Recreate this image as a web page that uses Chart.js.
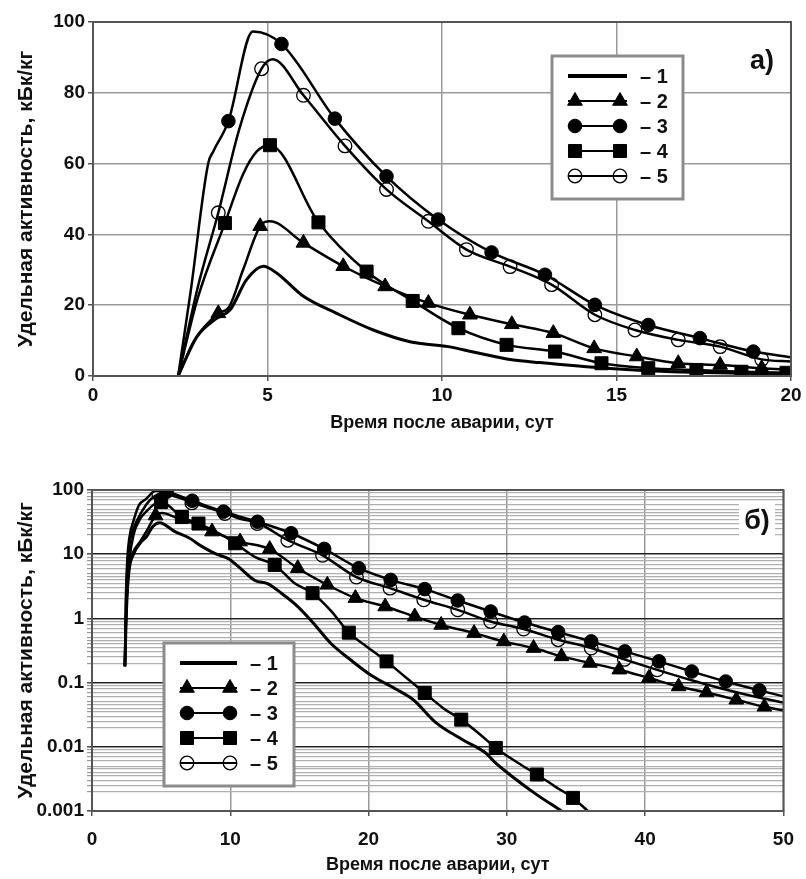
<!DOCTYPE html>
<html>
<head>
<meta charset="utf-8">
<script src="https://cdn.jsdelivr.net/npm/chart.js@4.4.1/dist/chart.umd.min.js"></script>
<style>
  html, body { margin: 0; padding: 0; background: #fff; }
  .panel { position: relative; width: 806px; }
</style>
</head>
<body>
<div class="panel" style="height:440px"><canvas id="linChart" width="806" height="440"></canvas></div>
<div class="panel" style="height:439px"><canvas id="logChart" width="806" height="439"></canvas></div>
<script>
const seriesNames = ['1', '2', '3', '4', '5'];
const yTitle = 'Удельная активность, кБк/кг';
const xTitle = 'Время после аварии, сут';
const logDecades = [0.001, 0.01, 0.1, 1, 10, 100];
const logMinor = [2, 2.5, 3, 3.5, 4, 4.5, 5, 6, 7, 8, 9];

// panel a) linear scale, days 0..20
const linCurve1 = [[2.44,0],[2.97,11],[3.5,16],[3.93,18.7],[4.4,27.2],[4.88,31],[5.26,29.1],[6.03,22.5],[6.98,17.7],[8.03,13],[9.08,9.7],[10.18,8.3],[10.9,6.8],[12.0,4.6],[12.8,3.8],[14.7,2.2],[16.6,1.2],[18.5,0.8],[20,0.5]];
const linCurve2 = [[2.44,0],[2.9,10],[3.59,17.7],[3.9,19.5],[4.3,30],[4.79,42.3],[5.07,43.7],[6.03,37.6],[7.17,31],[8.37,25.3],[9.61,20.6],[10.8,17.3],[12.0,14.6],[13.19,12.1],[14.36,7.8],[15.58,5.5],[16.77,3.6],[17.97,3.1],[19.16,2.2],[20,1.8]];
const linCurve3 = [[2.44,0],[2.8,24],[3.3,60],[3.45,63.5],[3.88,72],[4.58,97.3],[5.4,93.8],[6.93,72.7],[8.41,56.4],[9.89,44.2],[11.42,34.9],[12.95,28.6],[14.38,20.1],[15.91,14.4],[17.39,10.7],[18.92,6.9],[20,5.3]];
const linCurve4 = [[2.44,0],[3.0,22],[3.78,43.2],[4.3,57],[4.7,63.5],[5.07,65.2],[6.46,43.4],[7.84,29.5],[9.16,21.2],[10.47,13.5],[11.85,8.8],[13.24,6.9],[14.57,3.6],[15.91,2.2],[17.29,1.7],[18.58,1.2],[19.87,0.9],[20,0.85]];
const linCurve5 = [[2.44,0],[3.0,25],[3.59,46.1],[4.2,70],[4.83,86.8],[5.15,89.5],[6.03,79.3],[7.22,65],[8.41,52.7],[9.61,43.7],[10.7,35.7],[11.95,30.9],[13.14,25.8],[14.38,17.3],[15.53,13],[16.77,10.2],[17.97,8.3],[19.16,4.7],[20,4.1]];
const linMarks2 = [[3.59,17.7],[4.79,42.3],[6.03,37.6],[7.17,31],[8.37,25.3],[9.61,20.6],[10.8,17.3],[12.0,14.6],[13.19,12.1],[14.36,7.8],[15.58,5.5],[16.77,3.6],[17.97,3.1],[19.16,2.2]];
const linMarks3 = [[3.88,72],[5.4,93.8],[6.93,72.7],[8.41,56.4],[9.89,44.2],[11.42,34.9],[12.95,28.6],[14.38,20.1],[15.91,14.4],[17.39,10.7],[18.92,6.9]];
const linMarks4 = [[3.78,43.2],[5.07,65.2],[6.46,43.4],[7.84,29.5],[9.16,21.2],[10.47,13.5],[11.85,8.8],[13.24,6.9],[14.57,3.6],[15.91,2.2],[17.29,1.7],[18.58,1.2],[19.87,0.9]];
const linMarks5 = [[3.59,46.1],[4.83,86.8],[6.03,79.3],[7.22,65],[8.41,52.7],[9.61,43.7],[10.7,35.7],[11.95,30.9],[13.14,25.8],[14.38,17.3],[15.53,13],[16.77,10.2],[17.97,8.3],[19.16,4.7]];

// panel б) log scale, days 0..50
const logCurve1 = [[2.38,0.18],[2.45,0.7],[2.55,2.5],[2.7,6],[3.0,10],[3.5,15],[3.93,18.7],[4.4,27],[4.88,31],[6.0,22.5],[7.0,18],[8.0,13],[9.0,10],[9.87,8.5],[10.59,6.4],[11.78,3.9],[12.73,3.45],[13.69,2.47],[14.88,1.53],[16.0,0.85],[17.26,0.41],[18.69,0.227],[20.12,0.133],[22.03,0.078],[23.23,0.054],[24.89,0.0236],[26.8,0.0129],[28.47,0.008],[29.18,0.0056],[30.5,0.0033],[32.0,0.0019],[33.95,0.001]];
const logCurve2 = [[2.38,0.18],[2.45,0.8],[2.55,3],[2.7,7],[3.0,11],[3.5,16],[4.0,24],[4.6,40],[5.07,43.7],[6.03,37.6],[7.17,31],[8.68,22.5],[10.71,15.7],[12.85,12],[14.88,6.05],[17.02,3.33],[19.05,2.07],[21.2,1.53],[23.34,1.07],[25.25,0.79],[27.63,0.59],[29.78,0.437],[31.93,0.345],[33.95,0.256],[36.0,0.202],[38.13,0.159],[40.27,0.118],[42.42,0.087],[44.44,0.07],[46.59,0.054],[48.62,0.042],[50,0.037]];
const logCurve3 = [[2.38,0.18],[2.45,2],[2.55,8],[2.7,18],[3.0,33],[3.4,58],[3.9,72],[4.6,97],[5.4,94],[7.25,68],[9.51,46],[11.97,32],[14.4,21.2],[16.79,12.1],[19.29,6.05],[21.6,3.98],[24.06,2.86],[26.45,1.9],[28.83,1.28],[31.28,0.863],[33.71,0.612],[36.1,0.438],[38.53,0.306],[41.0,0.214],[43.37,0.149],[45.83,0.104],[48.26,0.0757],[50,0.061]];
const logCurve4 = [[2.38,0.18],[2.45,0.8],[2.55,3],[2.7,8],[3.0,20],[3.5,36],[4.0,48],[4.5,60],[5.0,65],[6.5,38],[7.7,30],[9.2,21],[10.35,14.8],[11.8,9],[13.21,6.8],[14.6,3.6],[15.95,2.47],[17.3,1.3],[18.57,0.6],[19.9,0.36],[21.3,0.214],[22.7,0.12],[24.06,0.069],[25.4,0.04],[26.7,0.0265],[28.0,0.016],[29.2,0.0096],[30.7,0.0058],[32.17,0.0037],[33.5,0.0024],[34.78,0.0016],[35.86,0.001]];
const logCurve5 = [[2.38,0.18],[2.45,1.5],[2.55,6],[2.7,14],[3.0,25],[3.6,46],[4.2,70],[4.83,87],[5.15,89.5],[6.03,79],[7.22,65],[8.41,52.7],[9.61,43.7],[10.7,35.7],[11.95,30.9],[14.16,16.5],[16.67,9.6],[19.12,4.4],[21.55,2.96],[23.99,1.95],[26.45,1.36],[28.83,0.895],[31.21,0.683],[33.71,0.465],[36.1,0.345],[38.5,0.23],[40.87,0.158],[43.3,0.11],[45.8,0.078],[48.3,0.058],[50,0.049]];
const logMarks2 = [[4.6,40],[8.68,22.5],[10.71,15.7],[12.85,12],[14.88,6.05],[17.02,3.33],[19.05,2.07],[21.2,1.53],[23.34,1.07],[25.25,0.79],[27.63,0.59],[29.78,0.437],[31.93,0.345],[33.95,0.256],[36.0,0.202],[38.13,0.159],[40.27,0.118],[42.42,0.087],[44.44,0.07],[46.59,0.054],[48.62,0.042]];
const logMarks3 = [[5.4,94],[7.25,68],[9.51,46],[11.97,32],[14.4,21.2],[16.79,12.1],[19.29,6.05],[21.6,3.98],[24.06,2.86],[26.45,1.9],[28.83,1.28],[31.28,0.863],[33.71,0.612],[36.1,0.438],[38.53,0.306],[41.0,0.214],[43.37,0.149],[45.83,0.104],[48.26,0.0757]];
const logMarks4 = [[5.0,65],[6.5,38],[7.7,30],[10.35,14.8],[13.21,6.8],[15.95,2.47],[18.57,0.6],[21.3,0.214],[24.06,0.069],[26.7,0.0265],[29.2,0.0096],[32.17,0.0037],[34.78,0.0016]];
const logMarks5 = [[4.83,87],[7.22,63],[9.61,43],[11.95,30],[14.16,16.5],[16.67,9.6],[19.12,4.4],[21.55,2.96],[23.99,1.95],[26.45,1.36],[28.83,0.895],[31.21,0.683],[33.71,0.465],[36.1,0.345],[38.5,0.23],[40.87,0.158]];

const FONT = "'Liberation Sans', Arial, sans-serif";

// marker look for series 1..5 (index 0 = plain line)
const markStyle = [
  null,
  { shape: 'triangle', r: 8.5, fill: '#000', bw: 1 },
  { shape: 'circle', r: 6.8, fill: '#000', bw: 1 },
  { shape: 'rect', r: 9.2, fill: '#000', bw: 1 },
  { shape: 'circle', r: 6.8, fill: 'rgba(0,0,0,0)', bw: 1.3 },
];

const toXY = (pts) => pts.map(([x, y]) => ({ x, y }));

function curveSet(pts, width) {
  return {
    data: toXY(pts), showLine: true, borderColor: '#000', borderWidth: width,
    pointRadius: 0, cubicInterpolationMode: 'monotone', fill: false,
  };
}

function markSet(pts, st) {
  return {
    data: toXY(pts), showLine: false, pointStyle: st.shape, pointRadius: st.r,
    pointBackgroundColor: st.fill, pointBorderColor: '#000', pointBorderWidth: st.bw,
  };
}

function drawMark(ctx, st, x, y) {
  ctx.beginPath();
  if (st.shape === 'circle') {
    ctx.arc(x, y, st.r, 0, Math.PI * 2);
  } else if (st.shape === 'triangle') {
    ctx.moveTo(x, y - st.r);
    ctx.lineTo(x + 0.866 * st.r, y + 0.5 * st.r);
    ctx.lineTo(x - 0.866 * st.r, y + 0.5 * st.r);
    ctx.closePath();
  } else {
    const s = st.r * Math.SQRT1_2;
    ctx.rect(x - s, y - s, 2 * s, 2 * s);
  }
  ctx.fillStyle = st.fill;
  ctx.fill();
  ctx.lineWidth = st.bw;
  ctx.strokeStyle = '#000';
  ctx.stroke();
}

// frame, legend box and panel tag
const boxLegend = {
  id: 'boxLegend',
  afterDraw(chart, args, o) {
    const ctx = chart.ctx;
    const a = chart.chartArea;
    ctx.save();
    ctx.strokeStyle = '#555';
    ctx.lineWidth = 2;
    ctx.strokeRect(a.left, a.top, a.right - a.left, a.bottom - a.top);

    ctx.fillStyle = '#fff';
    ctx.fillRect(o.x, o.y, o.w, o.h);
    ctx.strokeStyle = '#8c8c8c';
    ctx.lineWidth = 3;
    ctx.strokeRect(o.x, o.y, o.w, o.h);
    seriesNames.forEach((name, i) => {
      const y = o.y + o.first + i * o.gap;
      ctx.beginPath();
      ctx.moveTo(o.x1, y);
      ctx.lineTo(o.x2, y);
      ctx.strokeStyle = '#000';
      ctx.lineWidth = i === 0 ? 4 : 2;
      ctx.stroke();
      if (markStyle[i]) {
        drawMark(ctx, markStyle[i], o.x1 + 7, y);
        drawMark(ctx, markStyle[i], o.x2 - 7, y);
      }
      ctx.fillStyle = '#111';
      ctx.font = 'bold 20px ' + FONT;
      ctx.textBaseline = 'middle';
      ctx.textAlign = 'left';
      ctx.fillText('– ' + name, o.tx, y + 1);
    });

    if (o.tagBg) {
      ctx.fillStyle = '#fff';
      ctx.fillRect(o.tagBg[0], o.tagBg[1], o.tagBg[2], o.tagBg[3]);
    }
    ctx.fillStyle = '#111';
    ctx.font = 'bold 27px ' + FONT;
    ctx.textAlign = 'center';
    ctx.textBaseline = 'middle';
    ctx.fillText(o.tag, o.tagX, o.tagY);
    ctx.restore();
  }
};

function buildSets(curves, marks) {
  const sets = curves.map((c, i) => curveSet(c, i === 0 ? 3 : 2.5));
  marks.forEach((m, i) => sets.push(markSet(m, markStyle[i + 1])));
  return sets;
}

const tickFont = { family: FONT, size: 19, weight: 'bold' };
const titleFont = { family: FONT, size: 18, weight: 'bold' };
const yTitleFont = { family: FONT, size: 21, weight: 'bold' };

new Chart(document.getElementById('linChart'), {
  type: 'scatter',
  data: { datasets: buildSets([linCurve1, linCurve2, linCurve3, linCurve4, linCurve5], [linMarks2, linMarks3, linMarks4, linMarks5]) },
  options: {
    responsive: false, animation: false, devicePixelRatio: 1,
    layout: { padding: { top: 22, right: 15, left: 0, bottom: 0 } },
    plugins: {
      legend: { display: false }, tooltip: { enabled: false },
      boxLegend: { x: 552, y: 56, w: 131, h: 143, first: 20, gap: 25, x1: 568, x2: 627, tx: 640, tag: 'а)', tagX: 762, tagY: 62 },
    },
    scales: {
      x: {
        type: 'linear', min: 0, max: 20,
        ticks: { stepSize: 5, color: '#111', font: tickFont, padding: 3 },
        grid: { color: '#9a9a9a', lineWidth: 1.5, tickLength: 5, tickColor: '#555' },
        border: { display: false },
        title: { display: true, text: xTitle, color: '#111', font: titleFont, padding: { top: 0, bottom: 6 } },
        afterFit: (s) => { s.height = 64; },
      },
      y: {
        type: 'linear', min: 0, max: 100,
        ticks: { stepSize: 20, color: '#111', font: tickFont, padding: 3 },
        grid: { color: '#9a9a9a', lineWidth: 1.5, tickLength: 5, tickColor: '#555' },
        border: { display: false },
        title: { display: true, text: yTitle, color: '#111', font: yTitleFont, padding: { top: 14, bottom: 0 } },
        afterFit: (s) => { s.width = 93; },
      },
    },
  },
  plugins: [boxLegend],
});

new Chart(document.getElementById('logChart'), {
  type: 'scatter',
  data: { datasets: buildSets([logCurve1, logCurve2, logCurve3, logCurve4, logCurve5], [logMarks2, logMarks3, logMarks4, logMarks5]) },
  options: {
    responsive: false, animation: false, devicePixelRatio: 1,
    layout: { padding: { top: 50, right: 15, left: 0, bottom: 0 } },
    plugins: {
      legend: { display: false }, tooltip: { enabled: false },
      boxLegend: { x: 164, y: 203, w: 130, h: 143, first: 20, gap: 25, x1: 180, x2: 237, tx: 250, tag: 'б)', tagX: 757, tagY: 82, tagBg: [739, 64, 36, 36] },
    },
    scales: {
      x: {
        type: 'linear', min: 0, max: 50,
        ticks: { stepSize: 10, color: '#111', font: tickFont, padding: 12 },
        grid: { color: '#9a9a9a', lineWidth: 1.5, tickLength: 5, tickColor: '#555' },
        border: { display: false },
        title: { display: true, text: xTitle, color: '#111', font: titleFont, padding: { top: 0, bottom: 3 } },
        afterFit: (s) => { s.height = 68; },
      },
      y: {
        type: 'logarithmic', min: 0.001, max: 100,
        afterBuildTicks: (s) => {
          const t = [];
          logDecades.forEach((d, i) => {
            t.push({ value: d, major: true });
            if (i < logDecades.length - 1) logMinor.forEach((m) => t.push({ value: +(d * m).toPrecision(3), major: false }));
          });
          s.ticks = t;
        },
        ticks: {
          autoSkip: false, color: '#111', font: tickFont, padding: 3,
          callback: (v) => (logDecades.includes(v) ? String(v) : ''),
        },
        grid: {
          color: (c) => (c.tick && c.tick.major ? '#222' : '#b0b0b0'),
          lineWidth: (c) => (c.tick && c.tick.major ? 1.6 : 1.2),
          tickLength: 5,
          tickColor: (c) => (c.tick && c.tick.major ? '#555' : '#999'),
        },
        border: { display: false },
        title: { display: true, text: yTitle, color: '#111', font: yTitleFont, padding: { top: 14, bottom: 0 } },
        afterFit: (s) => { s.width = 92; },
      },
    },
  },
  plugins: [boxLegend],
});
</script>
</body>
</html>
